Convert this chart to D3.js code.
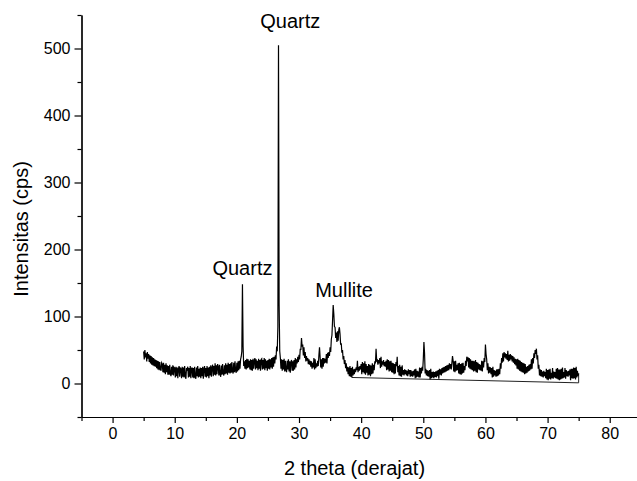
<!DOCTYPE html>
<html>
<head>
<meta charset="utf-8">
<script src="https://cdn.jsdelivr.net/npm/d3@7/dist/d3.min.js"></script>
<style>
  body { margin: 0; background: #fff; }
  svg { display: block; font-family: "Liberation Sans", Arial, sans-serif; }
  .axis text { font-size: 16px; fill: #000; }
  .axis path, .axis line { stroke: #000; stroke-width: 1.2; }
</style>
</head>
<body>
<div id="chart"></div>
<script>
// 2 theta starts at 5.0 and goes up in 0.1 degree steps, one row per degree
const thetaStart = 5.0;
const thetaStep = 0.1;
const intensity = [
    48, 36, 50, 39, 45, 33, 47, 37, 44, 32,
    42, 30, 41, 28, 39, 27, 38, 26, 36, 25,
    35, 23, 34, 21, 33, 20, 32, 22, 19, 31,
    29, 17, 31, 16, 28, 14, 30, 17, 27, 13,
    26, 13, 28, 14, 11, 25, 13, 27, 12, 24,
    23, 9, 25, 11, 24, 8, 22, 26, 10, 23,     // 10
    22, 8, 25, 10, 24, 9, 26, 11, 7, 23,
    21, 25, 9, 23, 10, 26, 8, 22, 24, 9,
    23, 8, 25, 10, 7, 24, 11, 26, 9, 22,
    10, 24, 8, 23, 11, 25, 7, 22, 26, 10,
    23, 9, 26, 11, 24, 8, 25, 12, 27, 10,     // 15
    24, 28, 11, 26, 13, 30, 12, 27, 14, 29,
    25, 12, 28, 14, 10, 27, 13, 29, 15, 12,
    27, 14, 30, 15, 28, 13, 31, 16, 29, 15,
    30, 16, 32, 18, 15, 31, 17, 33, 19, 16,
    31, 18, 33, 20, 34, 22, 36, 40, 48, 148,  // 20
    56, 26, 33, 22, 35, 21, 37, 23, 36, 24,
    34, 21, 36, 20, 35, 19, 37, 22, 34, 38,
    21, 36, 23, 34, 20, 37, 22, 35, 19, 36,
    37, 21, 35, 22, 38, 20, 36, 23, 34, 19,
    35, 22, 37, 21, 36, 24, 38, 22, 39, 25,   // 25
    40, 30, 42, 36, 55, 48, 85, 505, 118, 48,
    38, 22, 36, 19, 35, 21, 37, 18, 34, 20,
    17, 34, 21, 36, 18, 33, 16, 32, 35, 19,
    33, 19, 35, 21, 38, 24, 36, 30, 40, 32,
    43, 36, 52, 50, 68, 55, 58, 42, 54, 38,   // 30
    47, 33, 41, 34, 38, 29, 36, 28, 34, 25,
    33, 22, 31, 24, 38, 21, 36, 23, 30, 25,
    34, 26, 42, 54, 39, 24, 36, 22, 38, 25,
    38, 30, 37, 31, 44, 30, 46, 38, 47, 41,
    54, 47, 66, 72, 94, 117, 104, 85, 84, 68, // 35
    76, 62, 78, 64, 80, 84, 74, 58, 60, 46,
    50, 36, 41, 29, 35, 23, 30, 18, 25, 14,
    24, 11, 26, 10, 23, 9, 25, 12, 21, 14,
    22, 17, 24, 20, 34, 17, 25, 19, 26, 21,
    29, 14, 32, 17, 30, 15, 33, 13, 29, 16,   // 40
    26, 12, 29, 13, 28, 11, 27, 14, 30, 15,
    28, 20, 33, 30, 52, 34, 35, 28, 35, 30,
    38, 23, 40, 25, 33, 28, 35, 26, 32, 25,
    34, 20, 36, 21, 35, 18, 33, 19, 34, 17,
    31, 16, 30, 14, 29, 15, 32, 26, 40, 17,   // 45
    26, 12, 28, 11, 25, 10, 27, 13, 20, 12,
    21, 14, 20, 12, 19, 11, 21, 14, 20, 10,
    20, 11, 18, 10, 19, 12, 21, 8, 22, 9,
    19, 10, 18, 9, 24, 9, 23, 15, 25, 19,
    36, 62, 46, 15, 22, 12, 20, 11, 19, 10,   // 50
    20, 6, 22, 8, 17, 9, 18, 8, 17, 10,
    18, 9, 19, 11, 20, 7, 22, 13, 21, 12,
    23, 15, 24, 16, 25, 17, 26, 18, 27, 19,
    28, 20, 30, 22, 29, 21, 31, 41, 34, 18,
    33, 17, 34, 19, 28, 20, 30, 15, 31, 14,   // 55
    29, 13, 30, 15, 31, 16, 26, 20, 34, 26,
    40, 33, 39, 24, 38, 22, 36, 21, 34, 20,
    34, 18, 33, 19, 35, 17, 32, 16, 31, 21,
    29, 20, 28, 19, 34, 18, 33, 24, 38, 32,
    58, 44, 36, 20, 30, 15, 25, 16, 24, 14,   // 60
    23, 9, 25, 10, 20, 12, 19, 10, 21, 11,
    21, 12, 22, 14, 30, 22, 38, 31, 45, 33,
    47, 39, 45, 37, 44, 35, 49, 33, 43, 34,
    44, 36, 42, 33, 41, 31, 39, 29, 37, 27,
    36, 22, 37, 21, 35, 19, 34, 18, 32, 17,   // 65
    31, 16, 30, 14, 29, 15, 25, 16, 26, 18,
    28, 19, 29, 21, 36, 22, 38, 30, 45, 38,
    50, 44, 52, 36, 42, 22, 28, 12, 21, 11,
    20, 10, 18, 9, 19, 11, 17, 8, 22, 6,
    20, 5, 21, 7, 22, 6, 16, 8, 23, 7,        // 70
    18, 9, 17, 8, 22, 7, 23, 6, 21, 5,
    21, 6, 22, 7, 24, 8, 17, 9, 23, 7,
    20, 11, 18, 10, 19, 12, 21, 5, 22, 8,
    22, 7, 24, 8, 23, 6, 25, 9, 19, 11,
    15                                          // 75
];

// straight background line under the pattern (closes at 75 up to the data)
const baseTheta = [38.5, 75, 75];
const baseValue = [9, 1, 15];

// peak labels
const annotText = ['Quartz', 'Quartz', 'Mullite'];
const annotTheta = [28.6, 20.9, 37.25];
const annotValue = [530, 162, 129];

const xMajor = [0, 10, 20, 30, 40, 50, 60, 70, 80];
const xMinor = [-5, 5, 15, 25, 35, 45, 55, 65, 75];
const yMajor = [0, 100, 200, 300, 400, 500];
const yMinor = [-50, 50, 150, 250, 350, 450, 550];

const width = 637;
const height = 481;

const x = d3.scaleLinear().domain([-5, 85]).range([81.5, 640.8]);
const y = d3.scaleLinear().domain([-50, 550]).range([417, 15]);

const svg = d3.select('#chart').append('svg')
    .attr('width', width)
    .attr('height', height);

svg.append('rect').attr('width', width).attr('height', height).attr('fill', '#fff');

// x axis: minor first, then labelled majors
svg.append('g')
    .attr('class', 'axis')
    .attr('transform', 'translate(0,' + y(-50) + ')')
    .call(d3.axisBottom(x).tickValues(xMinor).tickSize(4).tickSizeOuter(0).tickFormat(''));

svg.append('g')
    .attr('class', 'axis')
    .attr('transform', 'translate(0,' + y(-50) + ')')
    .call(d3.axisBottom(x).tickValues(xMajor).tickSize(6).tickSizeOuter(0).tickPadding(5));

svg.append('g')
    .attr('class', 'axis')
    .attr('transform', 'translate(' + x(-5) + ',0)')
    .call(d3.axisLeft(y).tickValues(yMinor).tickSize(4).tickSizeOuter(0).tickFormat(''));

svg.append('g')
    .attr('class', 'axis')
    .attr('transform', 'translate(' + x(-5) + ',0)')
    .call(d3.axisLeft(y).tickValues(yMajor).tickSize(7).tickSizeOuter(0).tickPadding(4));

// axis titles
svg.append('text')
    .attr('x', 354.5)
    .attr('y', 475)
    .attr('text-anchor', 'middle')
    .style('font-size', '20px')
    .text('2 theta (derajat)');

svg.append('text')
    .attr('transform', 'translate(28,229) rotate(-90)')
    .attr('text-anchor', 'middle')
    .style('font-size', '20px')
    .text('Intensitas (cps)');

// background line
const baseLine = d3.line()
    .x((d, i) => x(baseTheta[i]))
    .y((d, i) => y(baseValue[i]));

svg.append('path')
    .datum(baseTheta)
    .attr('d', baseLine)
    .attr('fill', 'none')
    .attr('stroke', '#222')
    .attr('stroke-width', 1);

// diffraction pattern
const line = d3.line()
    .x((d, i) => x(thetaStart + i * thetaStep))
    .y((d) => y(d));

svg.append('path')
    .datum(intensity)
    .attr('d', line)
    .attr('fill', 'none')
    .attr('stroke', '#000')
    .attr('stroke-width', 1.2);

svg.selectAll('.annot')
    .data(annotText)
    .enter()
  .append('text')
    .attr('class', 'annot')
    .attr('x', (d, i) => x(annotTheta[i]))
    .attr('y', (d, i) => y(annotValue[i]))
    .attr('text-anchor', 'middle')
    .style('font-size', '20px')
    .text((d) => d);
</script>
</body>
</html>
